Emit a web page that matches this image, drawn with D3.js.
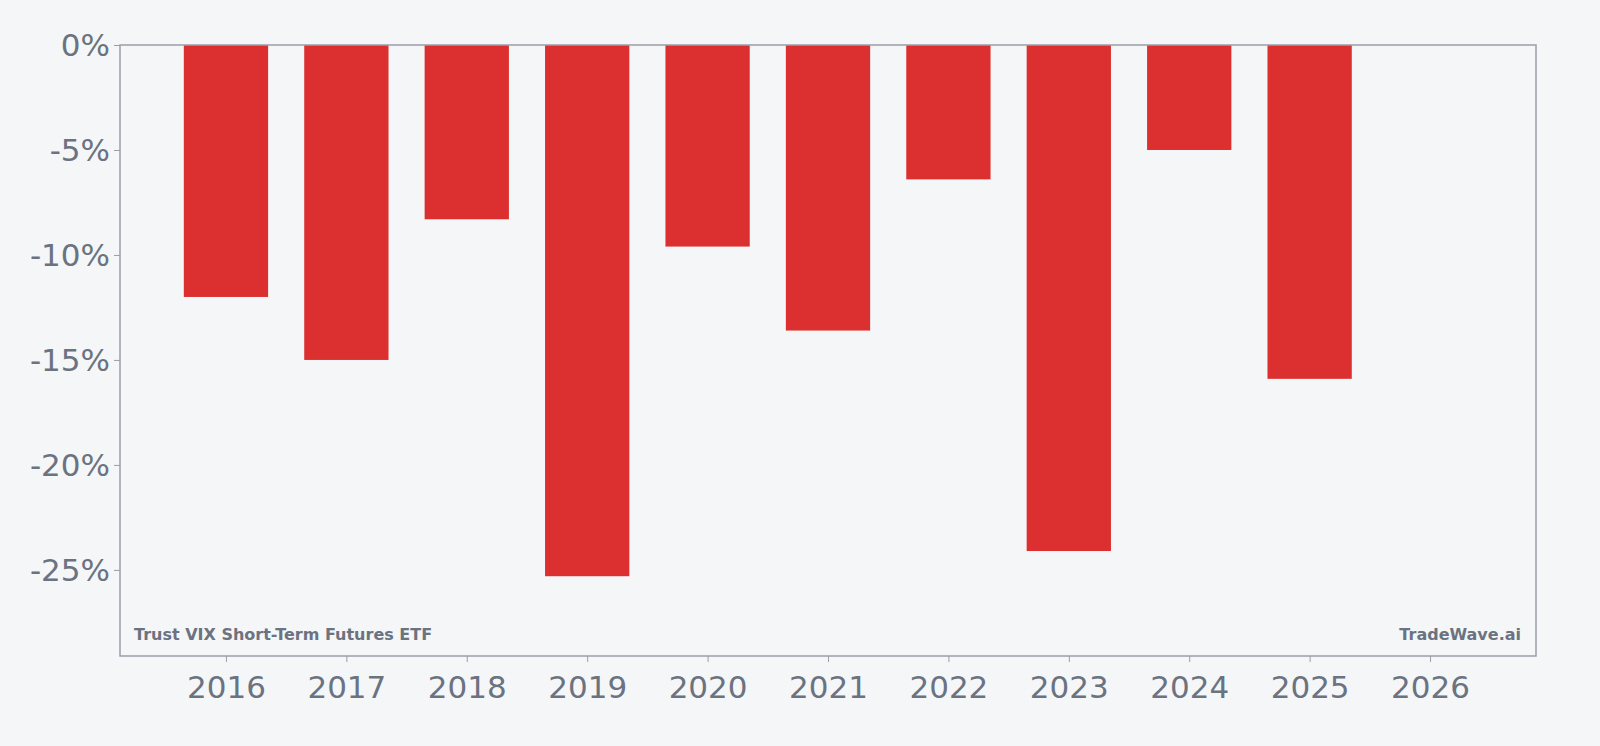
<!DOCTYPE html><html><head><meta charset="utf-8"><script src="https://cdn.jsdelivr.net/npm/d3@7"></script>
<style>body{margin:0;background:#f4f6f8}</style></head><body><svg id="c" width="1600" height="746"></svg><script>
const years=[2016,2017,2018,2019,2020,2021,2022,2023,2024,2025];
const values=[-12.0,-15.0,-8.3,-25.3,-9.6,-13.6,-6.4,-24.1,-5.0,-15.9];
const yTicks=[0,-5,-10,-15,-20,-25];
const xTicks=[2016,2017,2018,2019,2020,2021,2022,2023,2024,2025,2026];
const svg=d3.select("#c");
const L=120,R=1536,T=45,B=656;
const x=d3.scaleLinear().domain([2015.12,2026.88]).range([L,R]);
const y=d3.scaleLinear().domain([-29.1,0]).range([B,T]);
const bw=x(2016.35)-x(2015.65);
svg.selectAll("rect.b").data(values).join("rect").attr("class","b")
 .attr("x",(d,i)=>x(years[i])-bw/2).attr("width",bw)
 .attr("y",y(0)).attr("height",d=>y(d)-y(0)).attr("fill","#dc3030");
svg.append("rect").attr("x",L).attr("y",T).attr("width",R-L).attr("height",B-T).attr("fill","none").attr("stroke","#9a9ea8").attr("stroke-width",1.5);
const gx=svg.append("g").attr("transform",`translate(0,${B})`).call(d3.axisBottom(x).tickValues(xTicks).tickFormat(d3.format("d")).tickSize(6));
const gy=svg.append("g").attr("transform",`translate(${L},0)`).call(d3.axisLeft(y).tickValues(yTicks).tickFormat(d=>d+"%").tickSize(6));
[gx,gy].forEach(g=>{g.select(".domain").remove();g.selectAll("line").attr("stroke","#9a9ea8");
 g.selectAll("text").attr("fill","#6b7280").attr("font-family","DejaVu Sans").attr("font-size",31);});
gx.selectAll("text").attr("dy","1.05em");
gy.selectAll("text").attr("dy","0.35em").attr("x",-10);
svg.append("text").attr("x",134).attr("y",640).text("Trust VIX Short-Term Futures ETF").attr("fill","#6b7280").attr("font-family","DejaVu Sans").attr("font-weight","bold").attr("font-size",16);
svg.append("text").attr("x",1521).attr("y",640).attr("text-anchor","end").text("TradeWave.ai").attr("fill","#6b7280").attr("font-family","DejaVu Sans").attr("font-weight","bold").attr("font-size",16);
</script></body></html>
